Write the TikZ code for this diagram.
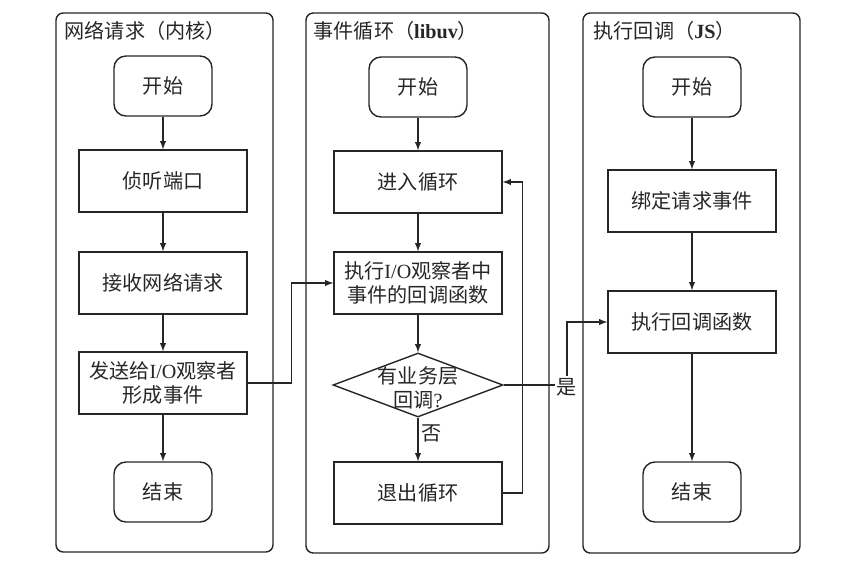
\documentclass[tikz,border=0pt]{standalone}
\usepackage{fontspec}
\setmainfont{Noto Sans CJK SC}
\newfontfamily\lat{Liberation Serif}
\usetikzlibrary{shapes.geometric}

\begin{document}
\begin{tikzpicture}[x=0.025cm, y=-0.025cm, -latex, line width=1pt, color=black!85,
font=\fontsize{14.3}{17}\selectfont,
startstop/.style={rectangle, rounded corners=0.3cm, draw, minimum width=2.45cm, minimum height=1.5cm},
proc/.style={rectangle, draw, minimum width=4.2cm, minimum height=1.55cm, align=center, inner sep=1pt},
decision/.style={diamond, draw, minimum width=4.25cm, minimum height=1.6cm, inner sep=0pt},
panel/.style={-, rounded corners=0.18cm},
title/.style={anchor=west, inner sep=0pt}]
\useasboundingbox (0,0) rectangle (850,568);

% three lanes
\draw[panel] (56,13) rectangle (273,552);
\draw[panel] (306,13) rectangle (549,553);
\draw[panel] (583,13) rectangle (800,553);
\node[title] (ktitle) at (64,31) {网络请求（内核）};
\node[title] (ltitle) at (313,31) {事件循环（{\lat\bfseries libuv}）};
\node[title] (jtitle) at (593,31) {执行回调（{\lat\bfseries JS}）};

% kernel side
\node[startstop] (kstart) at (163,86) {开始};
\node[proc] (listen) at (163,181) {侦听端口};
\node[proc] (recv) at (163,283) {接收网络请求};
\node[proc] (send) at (163,383) {发送给{\lat I/O}观察者\\形成事件};
\node[startstop] (kend) at (163,492) {结束};

% event loop
\node[startstop] (lstart) at (418,87) {开始};
\node[proc] (enter) at (418,182) {进入循环};
\node[proc] (exec) at (418,283) {执行{\lat I/O}观察者中\\事件的回调函数};
\node[decision, label={[align=center, inner sep=0pt, yshift=-2pt]center:有业务层\\回调{\lat ?}}] (cond) at (418,385) {};
\node[proc] (exit) at (418,493) {退出循环};

% JS side
\node[startstop] (jstart) at (692,87) {开始};
\node[proc] (bind) at (692,201) {绑定请求事件};
\node[proc] (cb) at (692,322) {执行回调函数};
\node[startstop] (jend) at (692,492) {结束};

\foreach \a/\b in {kstart/listen, listen/recv, recv/send, send/kend,
  lstart/enter, enter/exec, exec/cond, jstart/bind, bind/cb, cb/jend}
  \draw (\a) -- (\b);

\draw (cond) -- node[right, pos=0.35, inner sep=2pt] {否} (exit);
\draw (exit.east) -- ++(20,0) |- (enter.east);
\draw (send.east) -- ++(44,0) |- (exec.west);

% yes branch to the JS callback
\node[inner sep=1pt] (yes) at (567,387) {是};
\draw[-] (cond.east) -- (cond.east -| yes.west);
\draw (yes.north) |- (cb.west);
\end{tikzpicture}
\end{document}
